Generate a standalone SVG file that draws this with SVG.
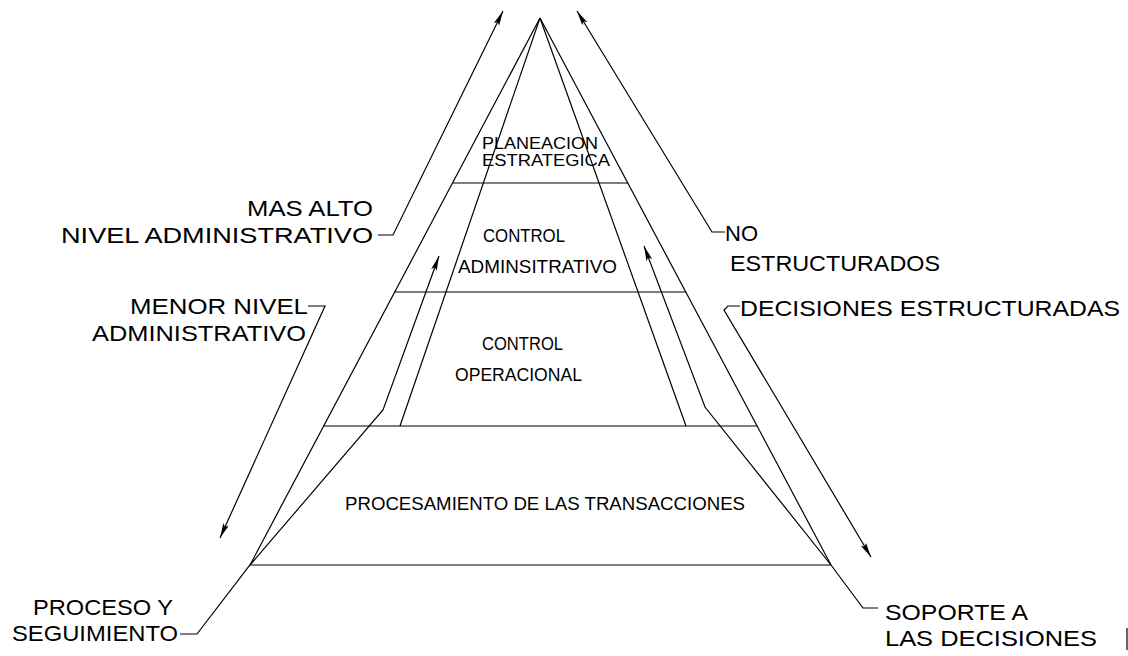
<svg xmlns="http://www.w3.org/2000/svg" width="1128" height="656" viewBox="0 0 1128 656">
<style>
.ln{fill:none;stroke:#000;stroke-width:1.2;stroke-linejoin:miter}
.big{font-family:"Liberation Sans",Arial,sans-serif;font-size:22px;fill:#000}
.sm{font-family:"Liberation Sans",Arial,sans-serif;font-size:18px;fill:#000}
.xs{font-family:"Liberation Sans",Arial,sans-serif;font-size:16px;fill:#000}
</style>
<defs>
<marker id="ah" markerUnits="userSpaceOnUse" markerWidth="16" markerHeight="8" refX="15" refY="3" orient="auto">
<path d="M0,0 L15,3 L0,6 L3,3 z" fill="#000"/>
</marker>
</defs>
<rect width="1128" height="656" fill="#fff"/>

<g id="pyramid">
<line class="ln" x1="540" y1="18" x2="250" y2="565"/>
<line class="ln" x1="540" y1="18" x2="831" y2="565"/>
<line class="ln" x1="540" y1="18" x2="400" y2="426"/>
<line class="ln" x1="540" y1="18" x2="686" y2="426"/>
<line class="ln" x1="453" y1="183" x2="628" y2="183"/>
<line class="ln" x1="395" y1="292" x2="686" y2="292"/>
<line class="ln" x1="323" y1="426" x2="757" y2="426"/>
<line class="ln" x1="250" y1="565" x2="831" y2="565"/>
<line class="ln" x1="1127" y1="628" x2="1127" y2="650"/>
</g>

<g id="planeacion">
<text class="xs" x="482" y="149" textLength="116" lengthAdjust="spacingAndGlyphs">PLANEACION</text>
<text class="xs" x="482" y="166" textLength="128" lengthAdjust="spacingAndGlyphs">ESTRATEGICA</text>
</g>
<g id="control-admin">
<text class="sm" x="483" y="242" textLength="82" lengthAdjust="spacingAndGlyphs">CONTROL</text>
<text class="sm" x="458" y="273" textLength="159" lengthAdjust="spacingAndGlyphs">ADMINSITRATIVO</text>
</g>
<g id="control-oper">
<text class="sm" x="482" y="350" textLength="81" lengthAdjust="spacingAndGlyphs">CONTROL</text>
<text class="sm" x="455" y="381" textLength="127" lengthAdjust="spacingAndGlyphs">OPERACIONAL</text>
</g>
<g id="procesamiento">
<text class="sm" x="345" y="510" textLength="400" lengthAdjust="spacingAndGlyphs">PROCESAMIENTO DE LAS TRANSACCIONES</text>
</g>

<g id="mas-alto">
<text class="big" x="247" y="216" textLength="126" lengthAdjust="spacingAndGlyphs">MAS ALTO</text>
<text class="big" x="61" y="243" textLength="312" lengthAdjust="spacingAndGlyphs">NIVEL ADMINISTRATIVO</text>
</g>
<g id="menor-nivel">
<text class="big" x="130" y="314" textLength="178" lengthAdjust="spacingAndGlyphs">MENOR NIVEL</text>
<text class="big" x="92" y="341" textLength="214" lengthAdjust="spacingAndGlyphs">ADMINISTRATIVO</text>
</g>
<g id="no-estructurados">
<text class="big" x="725" y="241" textLength="33" lengthAdjust="spacingAndGlyphs">NO</text>
<text class="big" x="730" y="271" textLength="210" lengthAdjust="spacingAndGlyphs">ESTRUCTURADOS</text>
</g>
<g id="decisiones-estructuradas">
<text class="big" x="740" y="316" textLength="380" lengthAdjust="spacingAndGlyphs">DECISIONES ESTRUCTURADAS</text>
</g>
<g id="proceso">
<text class="big" x="33" y="615" textLength="140" lengthAdjust="spacingAndGlyphs">PROCESO Y</text>
<text class="big" x="12" y="641" textLength="166" lengthAdjust="spacingAndGlyphs">SEGUIMIENTO</text>
</g>
<g id="soporte">
<text class="big" x="885" y="620" textLength="143" lengthAdjust="spacingAndGlyphs">SOPORTE A</text>
<text class="big" x="885" y="646" textLength="212" lengthAdjust="spacingAndGlyphs">LAS DECISIONES</text>
</g>

<g id="connectors">
<polyline class="ln" points="378,235 393,235 503,11" marker-end="url(#ah)"/>
<polyline class="ln" points="725,232 712,232 577,11" marker-end="url(#ah)"/>
<polyline class="ln" points="308,306 325,306 220,538" marker-end="url(#ah)"/>
<polyline class="ln" points="740,306 728,306 724,310 871,557" marker-end="url(#ah)"/>
<polyline class="ln" points="180,634 197,634 250,565 383,410 439,256" marker-end="url(#ah)"/>
<polyline class="ln" points="878,608 863,608 831,565 705,407 644,246" marker-end="url(#ah)"/>
</g>
</svg>
